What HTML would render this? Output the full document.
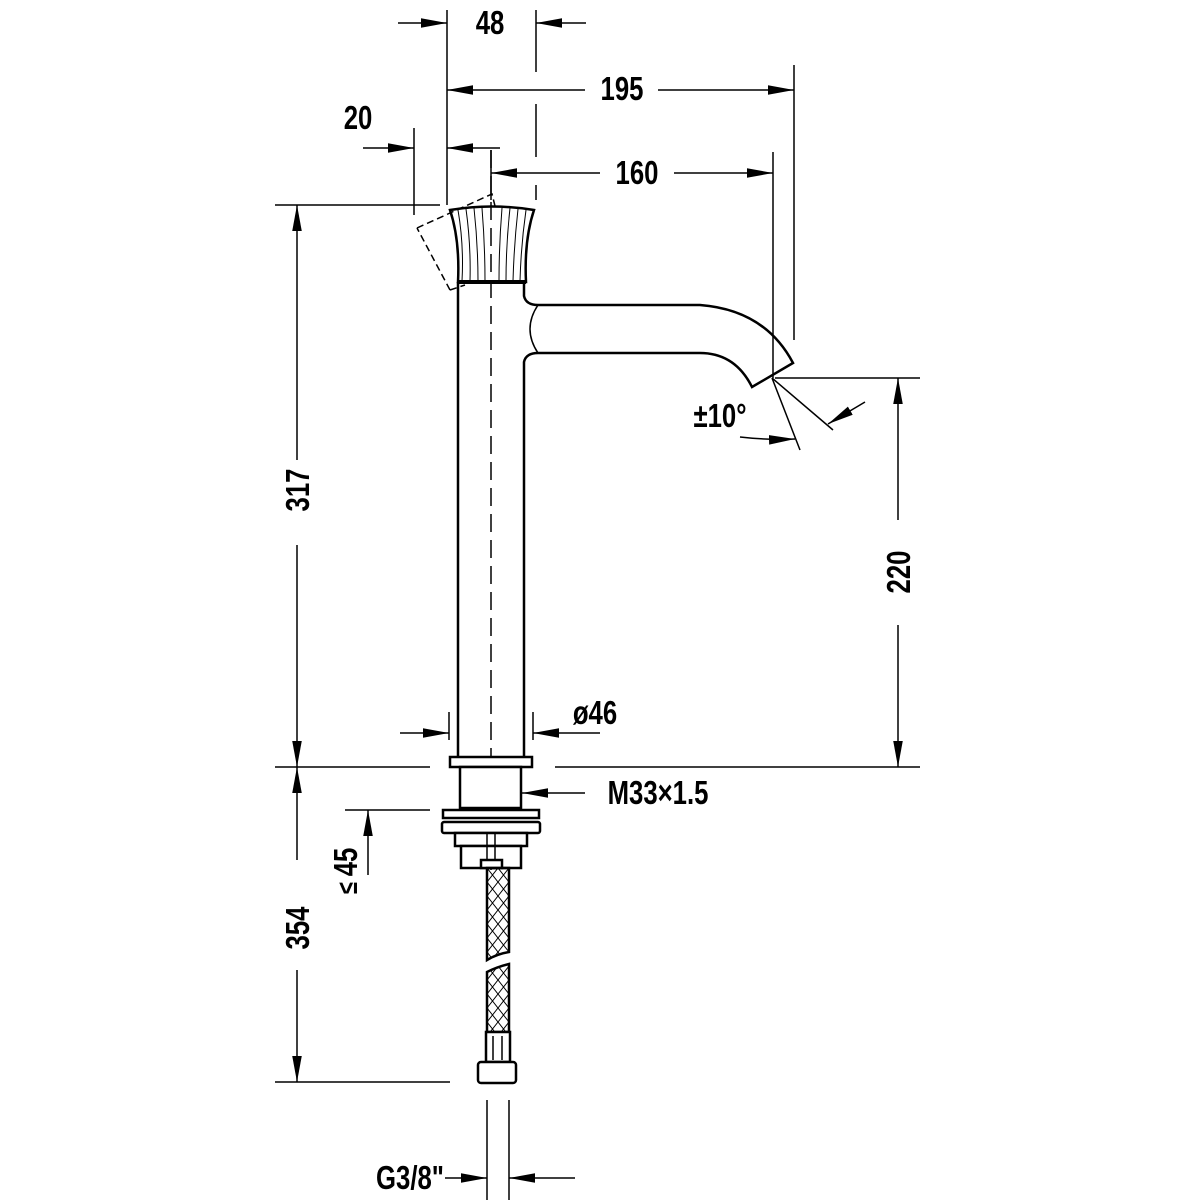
<!DOCTYPE html>
<html><head><meta charset="utf-8"><style>
html,body{margin:0;padding:0;background:#fff;}
svg{display:block;}
text{font-family:"Liberation Sans",sans-serif;font-weight:bold;fill:#000;font-size:33px;}
</style></head><body>
<svg width="1200" height="1200" viewBox="0 0 1200 1200" xmlns="http://www.w3.org/2000/svg">
<defs>
<marker id="b" viewBox="0 0 30 12" refX="30" refY="6" markerWidth="26" markerHeight="12" markerUnits="userSpaceOnUse" orient="auto-start-reverse"><path d="M0,0.5 L30,6 L0,11.5 z" fill="#000"/></marker>
<pattern id="braid" width="11" height="14" patternUnits="userSpaceOnUse" x="487" y="868"><path d="M0,0 L11,14 M11,0 L0,14" stroke="#000" stroke-width="1"/></pattern>
</defs>
<g stroke="#000" fill="none" stroke-width="1.5">
<line x1="447" y1="10" x2="447" y2="205"/>
<line x1="536" y1="10" x2="536" y2="72"/>
<line x1="536" y1="104" x2="536" y2="157"/>
<line x1="536" y1="185" x2="536" y2="200"/>
<line x1="794" y1="65" x2="794" y2="340"/>
<line x1="773" y1="152" x2="773" y2="378"/>
<line x1="414" y1="128" x2="414" y2="215"/>
<line x1="491" y1="150" x2="491" y2="200"/>
<line x1="398" y1="23" x2="447" y2="23" marker-end="url(#b)"/>
<line x1="586" y1="23" x2="536" y2="23" marker-end="url(#b)"/>
<line x1="585" y1="90" x2="447" y2="90" marker-end="url(#b)"/>
<line x1="658" y1="90" x2="794" y2="90" marker-end="url(#b)"/>
<line x1="363" y1="148" x2="414" y2="148" marker-end="url(#b)"/>
<line x1="500" y1="148" x2="447" y2="148" marker-end="url(#b)"/>
<line x1="600" y1="173" x2="491" y2="173" marker-end="url(#b)"/>
<line x1="674" y1="173" x2="773" y2="173" marker-end="url(#b)"/>
<line x1="275" y1="205" x2="440" y2="205"/>
<line x1="297" y1="460" x2="297" y2="205" marker-end="url(#b)"/>
<line x1="297" y1="545" x2="297" y2="767" marker-end="url(#b)"/>
<line x1="275" y1="767" x2="430" y2="767"/>
<line x1="555" y1="767" x2="920" y2="767"/>
<line x1="297" y1="860" x2="297" y2="767" marker-end="url(#b)"/>
<line x1="297" y1="970" x2="297" y2="1082" marker-end="url(#b)"/>
<line x1="275" y1="1082" x2="450" y2="1082"/>
<line x1="345" y1="810" x2="430" y2="810"/>
<line x1="368" y1="875" x2="368" y2="810" marker-end="url(#b)"/>
<line x1="775" y1="378" x2="920" y2="378"/>
<line x1="898" y1="520" x2="898" y2="378" marker-end="url(#b)"/>
<line x1="898" y1="625" x2="898" y2="767" marker-end="url(#b)"/>
<line x1="772" y1="378" x2="800" y2="450"/>
<line x1="772" y1="378" x2="833" y2="430"/>
<path d="M740,437 Q765,440 795,439" marker-end="url(#b)"/>
<line x1="865" y1="402" x2="828" y2="424" marker-end="url(#b)"/>
<line x1="449" y1="712" x2="449" y2="740"/>
<line x1="533" y1="712" x2="533" y2="740"/>
<line x1="400" y1="733" x2="449" y2="733" marker-end="url(#b)"/>
<line x1="600" y1="733" x2="533" y2="733" marker-end="url(#b)"/>
<line x1="585" y1="793" x2="522" y2="793" marker-end="url(#b)"/>
<line x1="487" y1="1100" x2="487" y2="1200"/>
<line x1="509" y1="1100" x2="509" y2="1200"/>
<line x1="445" y1="1178" x2="487" y2="1178" marker-end="url(#b)"/>
<line x1="575" y1="1178" x2="509" y2="1178" marker-end="url(#b)"/>
</g>
<g stroke="#000" fill="none" stroke-width="2.5">
<path d="M458,282 L458,757"/>
<path d="M524,282 L524,296 Q526,305 538,305 L700,305 Q765,310 793,363 L752,387 Q735,353 700,353 L538,353 Q526,353 524,362 L524,757"/>
<path d="M538,305 Q522,329 538,353" stroke-width="1.5"/>
<path d="M450,210 Q492,203 534,210 Q524,240 526,282 L458,282 Q460,240 450,210 z" fill="#fff"/>
<line x1="458" y1="282" x2="526" y2="282" stroke-width="4"/>
</g>
<g stroke="#000" stroke-width="1" fill="none">
<path d="M458,210 Q464,245 462,281"/><path d="M466,209 Q471,245 470,281"/><path d="M474,208 Q478,245 478,281"/><path d="M482,208 Q485,245 485,281"/>
<path d="M502,208 Q499,245 499,281"/><path d="M510,208 Q506,245 506,281"/><path d="M518,209 Q514,245 513,281"/><path d="M526,210 Q521,245 520,281"/>
</g>
<path d="M417,228 L492,194 L496,210 M450,290 L417,228 M450,290 L465,285" stroke="#000" stroke-width="1.5" fill="none" stroke-dasharray="7,4"/>
<line x1="491" y1="150" x2="491" y2="870" stroke="#000" stroke-width="1.5" stroke-dasharray="18,8"/>
<g stroke="#000" stroke-width="2.5" fill="#fff">
<rect x="450" y="757" width="82" height="10"/>
<rect x="460" y="767" width="61" height="41"/>
<rect x="443" y="810" width="96" height="8"/>
<rect x="442" y="822" width="98" height="11" rx="2"/>
<rect x="455" y="833" width="72" height="13"/>
<rect x="461" y="846" width="60" height="22"/>
<line x1="487" y1="833" x2="487" y2="862" stroke-width="1.5"/>
<line x1="495" y1="833" x2="495" y2="862" stroke-width="1.5"/>
<rect x="481" y="860" width="21" height="8"/>
<path d="M487,868 L509,868 L509,952 Q497,954 487,960 z" fill="url(#braid)"/>
<path d="M487,972 Q497,967 509,964 L509,1032 L487,1032 z" fill="url(#braid)"/>
<rect x="486" y="1032" width="24" height="30"/>
<line x1="493" y1="1036" x2="493" y2="1060" stroke-width="1.5"/>
<line x1="502" y1="1036" x2="502" y2="1060" stroke-width="1.5"/>
<rect x="478" y="1062" width="38" height="21" rx="3"/>
</g>
<g text-anchor="middle">
<text transform="translate(490,34) scale(0.78,1)">48</text>
<text transform="translate(622,100) scale(0.78,1)">195</text>
<text transform="translate(358,129) scale(0.78,1)">20</text>
<text transform="translate(637,184) scale(0.78,1)">160</text>
<text transform="translate(720,427) scale(0.78,1)">±10°</text>
<text transform="translate(595,724) scale(0.78,1)">ø46</text>
<text transform="translate(658,804) scale(0.78,1)">M33×1.5</text>
<text transform="translate(410,1189) scale(0.78,1)">G3/8"</text>
<text transform="translate(309,490) rotate(-90) scale(0.78,1)">317</text>
<text transform="translate(309,928) rotate(-90) scale(0.78,1)">354</text>
<text transform="translate(910,572) rotate(-90) scale(0.78,1)">220</text>
<text transform="translate(357,862) rotate(-90) scale(0.78,1)">45</text>
<text transform="translate(357,888) rotate(-90) scale(0.78,1)" style="font-size:28px">≤</text>
</g>
</svg>
</body></html>
